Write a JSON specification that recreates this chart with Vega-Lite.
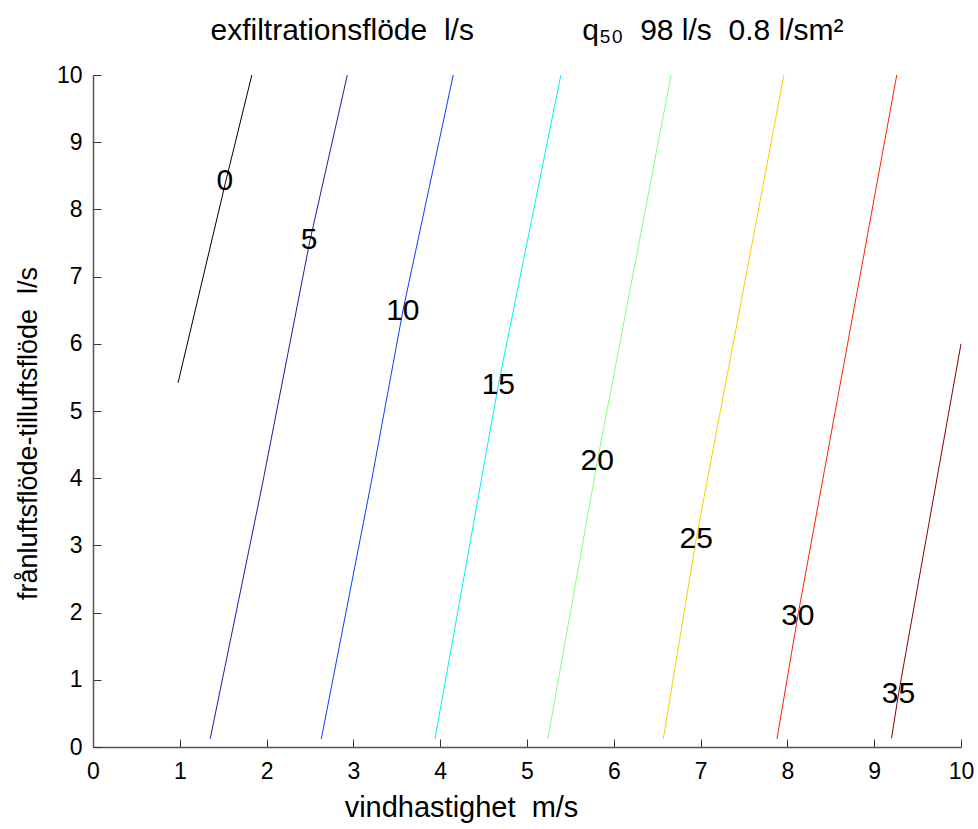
{
  "$schema": "https://vega.github.io/schema/vega-lite/v6.json",
  "width": 868,
  "height": 672,
  "autosize": {"type": "none"},
  "padding": {"left": 93, "top": 75, "right": 17, "bottom": 82},
  "background": "white",
  "title": {
    "text": "exfiltrationsflöde\u00a0\u00a0l/s\u00a0\u00a0\u00a0\u00a0\u00a0\u00a0\u00a0\u00a0\u00a0\u00a0\u00a0\u00a0\u00a0q₅₀\u00a0\u00a098\u00a0l/s\u00a0\u00a00.8\u00a0l/sm²",
    "font": "Liberation Sans",
    "fontSize": 30,
    "fontWeight": "normal",
    "color": "black",
    "anchor": "middle",
    "offset": 18
  },
  "config": {
    "view": {"stroke": null},
    "axis": {
      "grid": false,
      "domainColor": "#555555",
      "domainWidth": 1.5,
      "tickColor": "#333333",
      "tickSize": -8,
      "labelFlush": false,
      "labelFont": "Liberation Sans",
      "labelFontSize": 23,
      "labelColor": "black",
      "titleFont": "Liberation Sans",
      "titleFontSize": 28,
      "titleFontWeight": "normal",
      "titleColor": "black",
      "format": "d"
    }
  },
  "datasets": {
    "contours": [
      {"level": 0, "i": 0, "x": 0.98, "y": 5.42},
      {"level": 0, "i": 1, "x": 1.53, "y": 8.42},
      {"level": 0, "i": 2, "x": 1.83, "y": 10.0},
      {"level": 5, "i": 0, "x": 1.35, "y": 0.12},
      {"level": 5, "i": 1, "x": 1.95, "y": 3.9},
      {"level": 5, "i": 2, "x": 2.5, "y": 7.54},
      {"level": 5, "i": 3, "x": 2.93, "y": 10.0},
      {"level": 10, "i": 0, "x": 2.63, "y": 0.12},
      {"level": 10, "i": 1, "x": 3.2, "y": 3.9},
      {"level": 10, "i": 2, "x": 3.57, "y": 6.49},
      {"level": 10, "i": 3, "x": 4.15, "y": 10.0},
      {"level": 15, "i": 0, "x": 3.94, "y": 0.12},
      {"level": 15, "i": 1, "x": 4.67, "y": 5.39},
      {"level": 15, "i": 2, "x": 5.39, "y": 10.0},
      {"level": 20, "i": 0, "x": 5.24, "y": 0.12},
      {"level": 20, "i": 1, "x": 5.81, "y": 4.25},
      {"level": 20, "i": 2, "x": 6.66, "y": 10.0},
      {"level": 25, "i": 0, "x": 6.57, "y": 0.12},
      {"level": 25, "i": 1, "x": 6.95, "y": 3.1},
      {"level": 25, "i": 2, "x": 7.96, "y": 10.0},
      {"level": 30, "i": 0, "x": 7.88, "y": 0.12},
      {"level": 30, "i": 1, "x": 8.12, "y": 1.95},
      {"level": 30, "i": 2, "x": 9.26, "y": 10.0},
      {"level": 35, "i": 0, "x": 9.2, "y": 0.13},
      {"level": 35, "i": 1, "x": 9.28, "y": 0.79},
      {"level": 35, "i": 2, "x": 10.0, "y": 6.0}
    ],
    "labels": [
      {"level": 0, "x": 1.52, "y": 8.42},
      {"level": 5, "x": 2.49, "y": 7.54},
      {"level": 10, "x": 3.57, "y": 6.49},
      {"level": 15, "x": 4.67, "y": 5.39},
      {"level": 20, "x": 5.81, "y": 4.25},
      {"level": 25, "x": 6.95, "y": 3.1},
      {"level": 30, "x": 8.12, "y": 1.95},
      {"level": 35, "x": 9.28, "y": 0.79}
    ]
  },
  "layer": [
    {
      "data": {"name": "contours"},
      "mark": {"type": "line", "strokeWidth": 1, "interpolate": "linear"},
      "encoding": {
        "x": {
          "field": "x", "type": "quantitative",
          "scale": {"domain": [0, 10], "nice": false, "zero": false},
          "axis": {"title": "vindhastighet\u00a0\u00a0m/s", "titleFontSize": 29, "values": [0,1,2,3,4,5,6,7,8,9,10], "labelPadding": 21, "titlePadding": 10, "titleX": 368}
        },
        "y": {
          "field": "y", "type": "quantitative",
          "scale": {"domain": [0, 10], "nice": false, "zero": false},
          "axis": {"title": "frånluftsflöde-tilluftsflöde\u00a0\u00a0l/s", "titleFontSize": 27, "values": [0,1,2,3,4,5,6,7,8,9,10], "labelPadding": 19, "titlePadding": 14, "titleY": 358}
        },
        "color": {
          "field": "level", "type": "nominal", "legend": null,
          "scale": {
            "domain": [0, 5, 10, 15, 20, 25, 30, 35],
            "range": ["#000000", "#1c1ca8", "#0a3cff", "#00f0ff", "#80ff80", "#ffcc00", "#ff2000", "#880000"]
          }
        },
        "order": {"field": "i", "type": "quantitative"}
      }
    },
    {
      "data": {"name": "labels"},
      "mark": {"type": "text", "font": "Liberation Sans", "fontSize": 30, "color": "black", "align": "center", "baseline": "middle"},
      "encoding": {
        "x": {"field": "x", "type": "quantitative"},
        "y": {"field": "y", "type": "quantitative"},
        "text": {"field": "level", "type": "quantitative"}
      }
    }
  ]
}
